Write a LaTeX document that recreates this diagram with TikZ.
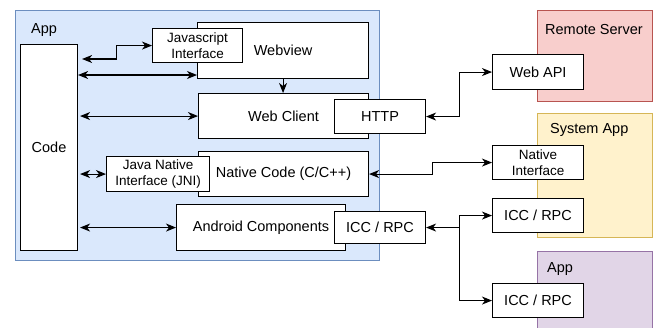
\documentclass[tikz,border=0pt]{standalone}
\usepackage{fontspec}
\setmainfont{Liberation Sans}
\usetikzlibrary{arrows.meta}
\definecolor{appfill}{HTML}{DAE8FC}
\definecolor{appline}{HTML}{6C8EBF}
\definecolor{srvfill}{HTML}{F8CECC}
\definecolor{srvline}{HTML}{B85450}
\definecolor{sysfill}{HTML}{FFF2CC}
\definecolor{sysline}{HTML}{D6B656}
\definecolor{prpfill}{HTML}{E1D5E7}
\definecolor{prpline}{HTML}{9673A6}
\begin{document}
\begin{tikzpicture}[x=1pt,y=-1pt,
  bigfont/.style={font=\fontsize{14.5}{17}\selectfont},
  smallfont/.style={font=\fontsize{13.5}{16}\selectfont},
  box/.style={draw=black, fill=white, line width=1.1pt, inner sep=0pt, align=center, anchor=north west, bigfont},
  sbox/.style={box, smallfont},
  cont/.style={line width=1pt, inner sep=0pt, anchor=north west},
  lbl/.style={anchor=base west, inner sep=0pt, bigfont},
  tip/.tip={Stealth[length=10pt,width=8pt,inset=3pt]},
  arr/.style={line width=1.1pt, tip-tip},
  arrone/.style={line width=1.1pt, -tip}]
\useasboundingbox (0,0) rectangle (659,327);
% containers
\node[cont, draw=appline, fill=appfill, minimum width=364pt, minimum height=250pt] (appc) at (15,10) {};
\node[cont, draw=srvline, fill=srvfill, minimum width=115pt, minimum height=91pt] (srv) at (537,10) {};
\node[cont, draw=sysline, fill=sysfill, minimum width=115pt, minimum height=124pt] (sys) at (537,113) {};
\node[cont, draw=prpline, fill=prpfill, minimum width=115pt, minimum height=90pt] (prp) at (537,251) {};
\node[lbl] (applbl) at (31,33) {App};
\node[lbl] (srvlbl) at (545,34) {Remote Server};
\node[lbl] (syslbl) at (550,133) {System App};
\node[lbl] (prplbl) at (547,272) {App};
% app boxes
\node[box, minimum width=57pt, minimum height=206pt] (code) at (20,44) {Code};
\node[box, minimum width=171pt, minimum height=56pt] (webview) at (197,22) {Webview};
\node[sbox, minimum width=90pt, minimum height=34pt] (jsi) at (152,28) {Javascript\\Interface};
\node[box, minimum width=170pt, minimum height=45pt] (webclient) at (198,93) {Web Client};
\node[box, minimum width=91pt, minimum height=34pt] (http) at (334,99) {HTTP};
\node[box, minimum width=170pt, minimum height=45pt] (native) at (198,151) {Native Code (C/C++)};
\node[sbox, minimum width=103pt, minimum height=35pt] (jni) at (106,156) {Java Native\\Interface (JNI)};
\node[box, minimum width=169pt, minimum height=46pt] (android) at (176,204) {Android Components};
\node[box, minimum width=91pt, minimum height=32pt] (icc) at (334,211) {ICC / RPC};
% outside boxes
\node[box, minimum width=91pt, minimum height=35pt] (webapi) at (492,54) {Web API};
\node[sbox, minimum width=91pt, minimum height=34pt] (nativeif) at (492,145) {Native\\Interface};
\node[box, minimum width=91pt, minimum height=34pt] (iccsys) at (492,198) {ICC / RPC};
\node[box, minimum width=91pt, minimum height=34pt] (iccapp) at (492,283) {ICC / RPC};
% connectors
\coordinate (a1) at ([xshift=4pt]code.east |- 0,59);
\draw[arr] (a1) -- ++(34,0) |- (jsi.west);
\coordinate (a2) at (code.east |- 0,75);
\draw[arr] (a2) -- (webview.west |- a2);
\draw[arr] ([xshift=2pt]code.east |- webclient.west) -- (webclient.west);
\draw[arrone] (webview.south) -- (webview.south |- webclient.north);
\draw[arr] ([xshift=2pt]code.east |- jni.west) -- (jni.west);
\draw[arr] ([xshift=2pt]code.east |- android.west) -- (android.west);
\draw[arr] (http.east) -- ++(33,0) |- (webapi.west);
\draw[arr] (native.east) -- ++(63,0) |- (nativeif.west);
\draw[arr] (icc.east) -- ++(33,0) coordinate (jn) |- (iccsys.west);
\draw[arrone] (jn) |- (iccapp.west);
\end{tikzpicture}
\end{document}
